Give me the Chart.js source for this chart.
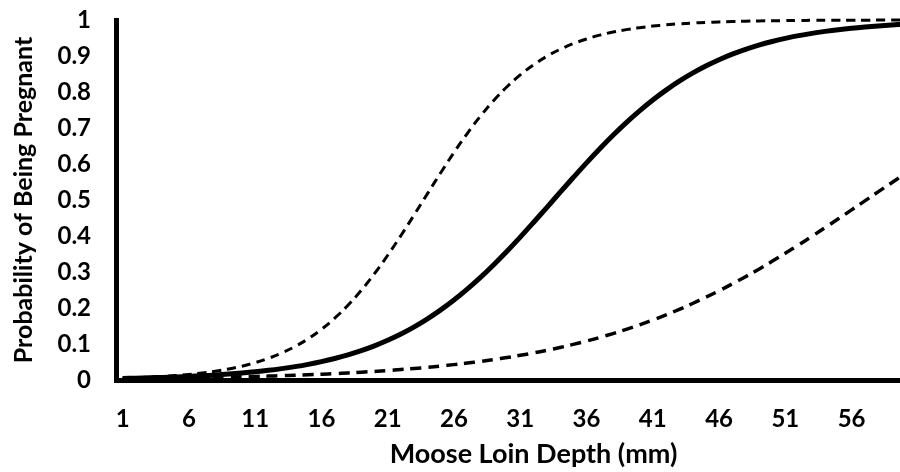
<!DOCTYPE html>
<html lang="en">
<head>
    <meta charset="UTF-8">
    <title>Probability of Being Pregnant by Moose Loin Depth</title>
    <style>
        html, body {
            margin: 0;
            padding: 0;
            background-color: #fff;
            overflow: hidden;
        }
        /* plot runs past the right edge of the window, like the cropped original */
        .container {
            width: 951px;
            height: 472px;
        }
    </style>
</head>
<body>
    <div class="container">
        <canvas id="pregChart"></canvas>
    </div>

    <script src="https://cdn.jsdelivr.net/npm/chart.js"></script>
    <script>
        const loinDepth = [1, 2, 3, 4, 5, 6, 7, 8, 9, 10, 11, 12, 13, 14, 15, 16, 17, 18, 19, 20,
            21, 22, 23, 24, 25, 26, 27, 28, 29, 30, 31, 32, 33, 34, 35, 36, 37, 38, 39, 40,
            41, 42, 43, 44, 45, 46, 47, 48, 49, 50, 51, 52, 53, 54, 55, 56, 57, 58, 59, 60,
            61, 62, 63];

        const fitted = [0.0044, 0.0052, 0.0061, 0.0072, 0.0085, 0.0100, 0.0118, 0.0139, 0.0164, 0.0194,
            0.0228, 0.0268, 0.0316, 0.0371, 0.0435, 0.0510, 0.0597, 0.0698, 0.0815, 0.0949,
            0.1103, 0.1277, 0.1476, 0.1698, 0.1947, 0.2222, 0.2524, 0.2851, 0.3204, 0.3578,
            0.3970, 0.4376, 0.4790, 0.5210, 0.5624, 0.6030, 0.6422, 0.6796, 0.7149, 0.7476,
            0.7778, 0.8053, 0.8302, 0.8524, 0.8723, 0.8897, 0.9051, 0.9185, 0.9302, 0.9403,
            0.9490, 0.9565, 0.9629, 0.9684, 0.9732, 0.9772, 0.9806, 0.9836, 0.9861, 0.9882];

        const upperCI = [0.0048, 0.0061, 0.0077, 0.0097, 0.0122, 0.0154, 0.0194, 0.0244, 0.0306, 0.0384,
            0.0481, 0.0601, 0.0749, 0.0928, 0.1146, 0.1407, 0.1716, 0.2076, 0.2489, 0.2953,
            0.3465, 0.4014, 0.4589, 0.5176, 0.5758, 0.6320, 0.6847, 0.7331, 0.7765, 0.8146,
            0.8475, 0.8755, 0.8990, 0.9184, 0.9343, 0.9473, 0.9579, 0.9665, 0.9733, 0.9787,
            0.9831, 0.9866, 0.9894, 0.9916, 0.9933, 0.9947, 0.9958, 0.9967, 0.9974, 0.9979,
            0.9984, 0.9987, 0.9990, 0.9992, 0.9994, 0.9995, 0.9996, 0.9997, 0.9997, 0.9998];

        const lowerCI = [0.0037, 0.0040, 0.0045, 0.0049, 0.0054, 0.0060, 0.0066, 0.0073, 0.0081, 0.0089,
            0.0099, 0.0109, 0.0120, 0.0133, 0.0146, 0.0161, 0.0178, 0.0197, 0.0217, 0.0239,
            0.0263, 0.0290, 0.0320, 0.0352, 0.0388, 0.0427, 0.0470, 0.0517, 0.0568, 0.0624,
            0.0685, 0.0752, 0.0824, 0.0903, 0.0989, 0.1081, 0.1182, 0.1290, 0.1406, 0.1532,
            0.1666, 0.1809, 0.1962, 0.2125, 0.2297, 0.2479, 0.2670, 0.2870, 0.3079, 0.3296,
            0.3521, 0.3752, 0.3989, 0.4231, 0.4477, 0.4725, 0.4975, 0.5225, 0.5474, 0.5720];

        const tickFont = { family: 'Lato', weight: 'bold', size: 24 };

        const ctx = document.getElementById('pregChart').getContext('2d');
        const pregChart = new Chart(ctx, {
            type: 'line',
            data: {
                labels: loinDepth,
                datasets: [{
                    label: 'Fitted',
                    data: fitted,
                    borderColor: '#000',
                    borderWidth: 5,
                    clip: false
                }, {
                    label: 'Upper 95% CI',
                    data: upperCI,
                    borderColor: '#000',
                    borderWidth: 3,
                    borderDash: [9, 6],
                    clip: false
                }, {
                    label: 'Lower 95% CI',
                    data: lowerCI,
                    borderColor: '#000',
                    borderWidth: 3.5,
                    borderDash: [11, 7],
                    clip: false
                }]
            },
            options: {
                responsive: true,
                maintainAspectRatio: false,
                animation: false,
                layout: { padding: { top: 20, right: 0, bottom: 0, left: 0 } },
                elements: {
                    point: { radius: 0 },
                    line: { tension: 0.4 }
                },
                plugins: {
                    legend: { display: false },
                    tooltip: { enabled: false }
                },
                scales: {
                    x: {
                        offset: true,
                        grid: { display: false },
                        border: { display: true, color: '#000', width: 5 },
                        ticks: {
                            autoSkip: false,
                            maxRotation: 0,
                            padding: 17,
                            color: '#000',
                            font: tickFont,
                            callback: function(value, index) {
                                return index % 5 === 0 ? this.getLabelForValue(value) : '';
                            }
                        },
                        title: {
                            display: true,
                            text: 'Moose Loin Depth (mm)',
                            color: '#000',
                            font: { family: 'Lato', weight: 'bold', size: 27 },
                            padding: { top: 0, bottom: 2 }
                        },
                        afterFit: function(scale) {
                            scale.height = 92;
                            scale.paddingLeft = 0;
                            scale.paddingRight = 0;
                        }
                    },
                    y: {
                        min: 0,
                        max: 1,
                        grid: { display: false },
                        border: { display: true, color: '#000', width: 5 },
                        ticks: {
                            stepSize: 0.1,
                            padding: 17,
                            color: '#000',
                            font: tickFont,
                            callback: function(value) {
                                return String(Number(value.toFixed(1)));
                            }
                        },
                        title: {
                            display: true,
                            text: 'Probability of Being Pregnant',
                            color: '#000',
                            font: { family: 'Lato', weight: 'bold', size: 25 },
                            padding: { top: 9, bottom: 0 }
                        },
                        afterFit: function(scale) {
                            scale.width = 116;
                            scale.paddingTop = 0;
                            scale.paddingBottom = 0;
                        }
                    }
                }
            }
        });
    </script>
</body>
</html>
